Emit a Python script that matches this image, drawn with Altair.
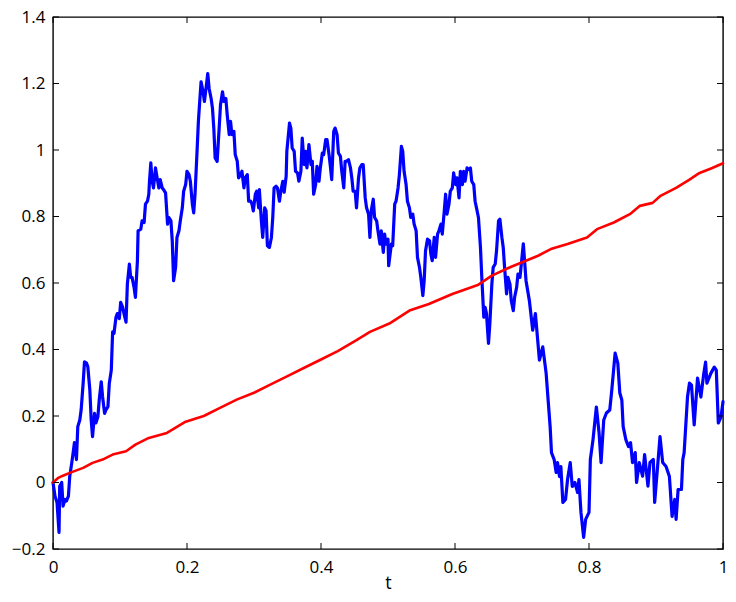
import altair as alt
import pandas as pd

# Brownian path W(t) (blue)
t_bm = [
    0.000, 0.003, 0.006, 0.009, 0.010, 0.013, 0.015, 0.018, 0.020, 0.023,
    0.025, 0.028, 0.030, 0.032, 0.035, 0.037, 0.040, 0.042, 0.045, 0.047,
    0.050, 0.052, 0.055, 0.057, 0.059, 0.062, 0.064, 0.067, 0.069, 0.072,
    0.074, 0.077, 0.079, 0.082, 0.084, 0.087, 0.089, 0.091, 0.094, 0.096,
    0.099, 0.101, 0.104, 0.106, 0.109, 0.111, 0.114, 0.116, 0.118, 0.121,
    0.123, 0.126, 0.127, 0.131, 0.133, 0.136, 0.138, 0.141, 0.143, 0.144,
    0.146, 0.148, 0.150, 0.153, 0.155, 0.158, 0.160, 0.163, 0.165, 0.168,
    0.171, 0.173, 0.176, 0.178, 0.180, 0.183, 0.185, 0.188, 0.190, 0.193,
    0.195, 0.198, 0.200, 0.203, 0.205, 0.208, 0.210, 0.212, 0.215, 0.217,
    0.219, 0.221, 0.224, 0.226, 0.229, 0.231, 0.233, 0.236, 0.238, 0.240,
    0.242, 0.245, 0.248, 0.250, 0.253, 0.255, 0.258, 0.260, 0.263, 0.265,
    0.267, 0.270, 0.272, 0.275, 0.277, 0.280, 0.282, 0.285, 0.287, 0.290,
    0.292, 0.295, 0.297, 0.299, 0.302, 0.304, 0.307, 0.308, 0.311, 0.313,
    0.316, 0.318, 0.320, 0.323, 0.326, 0.328, 0.330, 0.333, 0.335, 0.338,
    0.340, 0.343, 0.345, 0.348, 0.349, 0.353, 0.355, 0.357, 0.360, 0.362,
    0.365, 0.367, 0.370, 0.372, 0.375, 0.377, 0.379, 0.382, 0.385, 0.387,
    0.389, 0.392, 0.394, 0.397, 0.399, 0.402, 0.404, 0.407, 0.409, 0.412,
    0.414, 0.416, 0.419, 0.421, 0.424, 0.426, 0.429, 0.431, 0.434, 0.436,
    0.438, 0.441, 0.444, 0.446, 0.448, 0.451, 0.453, 0.456, 0.458, 0.461,
    0.463, 0.466, 0.468, 0.471, 0.473, 0.475, 0.478, 0.480, 0.483, 0.485,
    0.488, 0.490, 0.493, 0.495, 0.497, 0.500, 0.501, 0.505, 0.507, 0.510,
    0.512, 0.515, 0.517, 0.520, 0.522, 0.524, 0.527, 0.529, 0.532, 0.534,
    0.537, 0.539, 0.542, 0.544, 0.547, 0.549, 0.552, 0.554, 0.556, 0.559,
    0.562, 0.564, 0.566, 0.569, 0.571, 0.574, 0.576, 0.579, 0.581, 0.584,
    0.586, 0.588, 0.591, 0.593, 0.596, 0.598, 0.601, 0.603, 0.606, 0.608,
    0.611, 0.613, 0.615, 0.618, 0.621, 0.623, 0.625, 0.628, 0.630, 0.633,
    0.635, 0.638, 0.640, 0.643, 0.645, 0.647, 0.650, 0.652, 0.655, 0.657,
    0.660, 0.662, 0.665, 0.667, 0.670, 0.672, 0.674, 0.677, 0.679, 0.682,
    0.684, 0.687, 0.689, 0.692, 0.694, 0.697, 0.702, 0.706, 0.711, 0.716,
    0.720, 0.726, 0.731, 0.736, 0.739, 0.742, 0.744, 0.748, 0.751, 0.753,
    0.756, 0.758, 0.761, 0.765, 0.768, 0.772, 0.775, 0.779, 0.783, 0.785,
    0.788, 0.792, 0.795, 0.800, 0.802, 0.806, 0.811, 0.815, 0.818, 0.822,
    0.826, 0.831, 0.834, 0.839, 0.843, 0.846, 0.849, 0.851, 0.855, 0.859,
    0.862, 0.865, 0.869, 0.871, 0.875, 0.880, 0.883, 0.888, 0.891, 0.896,
    0.898, 0.906, 0.910, 0.915, 0.920, 0.924, 0.928, 0.930, 0.933, 0.938,
    0.940, 0.942, 0.947, 0.950, 0.953, 0.957, 0.962, 0.967, 0.971, 0.974,
    0.976, 0.982, 0.987, 0.990, 0.993, 0.997, 1.000,
]
w_bm = [
    0.000, -0.041, -0.060, -0.150, -0.011, 0.000, -0.071, -0.051, -0.056, -0.041,
    0.019, 0.059, 0.089, 0.120, 0.069, 0.168, 0.188, 0.218, 0.299, 0.363,
    0.359, 0.348, 0.278, 0.188, 0.138, 0.208, 0.179, 0.198, 0.248, 0.303,
    0.258, 0.208, 0.218, 0.228, 0.298, 0.338, 0.453, 0.448, 0.497, 0.508,
    0.493, 0.542, 0.527, 0.508, 0.482, 0.597, 0.657, 0.617, 0.617, 0.587,
    0.557, 0.667, 0.757, 0.762, 0.787, 0.782, 0.837, 0.846, 0.867, 0.906,
    0.961, 0.906, 0.886, 0.946, 0.921, 0.886, 0.911, 0.886, 0.881, 0.871,
    0.777, 0.797, 0.787, 0.727, 0.607, 0.647, 0.737, 0.757, 0.787, 0.826,
    0.876, 0.896, 0.936, 0.926, 0.906, 0.837, 0.811, 0.867, 0.996, 1.086,
    1.146, 1.205, 1.175, 1.146, 1.196, 1.230, 1.185, 1.155, 1.126, 1.066,
    0.976, 0.966, 1.066, 1.136, 1.175, 1.146, 1.155, 1.106, 1.046, 1.086,
    1.046, 1.056, 0.986, 0.966, 0.916, 0.926, 0.936, 0.886, 0.916, 0.926,
    0.846, 0.846, 0.837, 0.817, 0.867, 0.876, 0.826, 0.881, 0.787, 0.737,
    0.826, 0.817, 0.712, 0.707, 0.737, 0.797, 0.886, 0.891, 0.886, 0.846,
    0.876, 0.906, 0.873, 0.921, 0.996, 1.081, 1.066, 1.006, 0.996, 0.936,
    0.931, 0.906, 0.936, 1.036, 0.956, 0.996, 0.946, 1.016, 0.956, 0.966,
    0.867, 0.896, 0.951, 0.906, 0.946, 0.991, 0.986, 1.031, 1.031, 0.986,
    0.951, 0.911, 1.056, 1.066, 1.046, 0.991, 0.981, 0.936, 0.886, 0.966,
    0.966, 0.971, 0.946, 0.916, 0.876, 0.876, 0.826, 0.916, 0.946, 0.956,
    0.956, 0.856, 0.826, 0.807, 0.737, 0.817, 0.852, 0.797, 0.787, 0.757,
    0.717, 0.757, 0.692, 0.747, 0.717, 0.732, 0.652, 0.717, 0.712, 0.837,
    0.846, 0.886, 0.926, 1.011, 0.996, 0.936, 0.896, 0.846, 0.826, 0.797,
    0.807, 0.777, 0.757, 0.677, 0.647, 0.617, 0.562, 0.607, 0.697, 0.732,
    0.727, 0.687, 0.667, 0.737, 0.677, 0.747, 0.757, 0.777, 0.747, 0.817,
    0.867, 0.807, 0.837, 0.876, 0.886, 0.931, 0.896, 0.916, 0.856, 0.936,
    0.896, 0.936, 0.906, 0.946, 0.941, 0.946, 0.906, 0.896, 0.846, 0.817,
    0.797, 0.707, 0.617, 0.497, 0.527, 0.508, 0.418, 0.478, 0.597, 0.647,
    0.657, 0.697, 0.787, 0.792, 0.737, 0.707, 0.647, 0.567, 0.617, 0.597,
    0.547, 0.517, 0.557, 0.587, 0.627, 0.617, 0.718, 0.607, 0.547, 0.458,
    0.508, 0.368, 0.408, 0.329, 0.248, 0.168, 0.090, 0.069, 0.030, 0.060,
    0.018, 0.048, -0.060, -0.051, 0.009, 0.060, -0.012, 0.000, -0.030, 0.009,
    -0.090, -0.165, -0.111, -0.090, 0.069, 0.129, 0.227, 0.150, 0.060, 0.188,
    0.209, 0.218, 0.278, 0.389, 0.359, 0.269, 0.248, 0.168, 0.129, 0.108,
    0.120, 0.060, 0.090, 0.000, 0.060, 0.019, 0.084, -0.011, 0.060, 0.069,
    -0.060, 0.138, 0.060, 0.048, 0.018, -0.102, -0.051, -0.111, -0.021, -0.021,
    0.069, 0.090, 0.257, 0.299, 0.293, 0.173, 0.314, 0.257, 0.323, 0.362,
    0.299, 0.329, 0.347, 0.338, 0.179, 0.197, 0.243,
]

# Quadratic variation (red)
t_qv = [0.000, 0.008, 0.013, 0.025, 0.045, 0.059, 0.074, 0.089, 0.109, 0.123,
        0.143, 0.170, 0.198, 0.225, 0.250, 0.275, 0.300, 0.325, 0.350, 0.375,
        0.400, 0.425, 0.453, 0.473, 0.502, 0.532, 0.561, 0.596, 0.635, 0.655,
        0.684, 0.724, 0.743, 0.768, 0.797, 0.812, 0.837, 0.861, 0.876, 0.895,
        0.906, 0.930, 0.950, 0.965, 0.984, 1.000]
q_qv = [0.000, 0.014, 0.019, 0.029, 0.044, 0.059, 0.069, 0.084, 0.094, 0.114,
        0.134, 0.149, 0.183, 0.200, 0.225, 0.250, 0.270, 0.295, 0.320, 0.345,
        0.370, 0.395, 0.428, 0.453, 0.478, 0.517, 0.537, 0.567, 0.595, 0.622,
        0.649, 0.682, 0.702, 0.717, 0.737, 0.762, 0.782, 0.807, 0.832, 0.841,
        0.861, 0.886, 0.911, 0.931, 0.946, 0.960]

x_ticks = [0, 0.2, 0.4, 0.6, 0.8, 1.0]
y_ticks = [-0.2, 0, 0.2, 0.4, 0.6, 0.8, 1.0, 1.2, 1.4]

W, H = 670, 532
FONT = "Open Sans"
TICK = 6

xs = alt.Scale(domain=[0, 1], nice=False, zero=False)
ys = alt.Scale(domain=[-0.2, 1.4], nice=False, zero=False)

bm = pd.DataFrame({"t": t_bm, "v": w_bm})
qv = pd.DataFrame({"t": t_qv, "v": q_qv})
xt_df = pd.DataFrame({"t": x_ticks})
yt_df = pd.DataFrame({"v": y_ticks})

blue = alt.Chart(bm).mark_line(
    color="#0000ff", strokeWidth=3.2, strokeJoin="round", strokeCap="round"
).encode(
    x=alt.X("t:Q", scale=xs,
            axis=alt.Axis(values=x_ticks, format=".1~f", title="t")),
    y=alt.Y("v:Q", scale=ys,
            axis=alt.Axis(values=y_ticks, format=".1~f", title=None)),
)

red = alt.Chart(qv).mark_line(
    color="#ff0000", strokeWidth=2.6, strokeJoin="round", strokeCap="round"
).encode(
    x=alt.X("t:Q", scale=xs),
    y=alt.Y("v:Q", scale=ys),
)

tick_style = dict(color="black", strokeWidth=1)
y_left = alt.Chart(yt_df).mark_rule(**tick_style).encode(
    y=alt.Y("v:Q", scale=ys), x=alt.value(0), x2=alt.value(TICK))
y_right = alt.Chart(yt_df).mark_rule(**tick_style).encode(
    y=alt.Y("v:Q", scale=ys), x=alt.value(W - TICK), x2=alt.value(W))
x_bottom = alt.Chart(xt_df).mark_rule(**tick_style).encode(
    x=alt.X("t:Q", scale=xs), y=alt.value(H - TICK), y2=alt.value(H))
x_top = alt.Chart(xt_df).mark_rule(**tick_style).encode(
    x=alt.X("t:Q", scale=xs), y=alt.value(0), y2=alt.value(TICK))

chart = alt.layer(blue, red, y_left, y_right, x_bottom, x_top).properties(
    width=W, height=H,
    autosize=alt.AutoSizeParams(type="none"),
    padding={"left": 45, "top": 9, "right": 5, "bottom": 44},
    background="white",
).configure_axis(
    domain=False, ticks=False, grid=False,
    labelFont=FONT, labelFontSize=17, labelColor="black",
    titleFont=FONT, titleFontSize=18, titleColor="black",
    titleFontWeight="normal", labelFlush=False,
).configure_axisX(
    labelPadding=10, titlePadding=-1,
).configure_axisY(
    labelPadding=8,
).configure_view(
    stroke="black", strokeWidth=1.4,
)

chart.save("out.html", embed_options={"renderer": "svg", "actions": False})
